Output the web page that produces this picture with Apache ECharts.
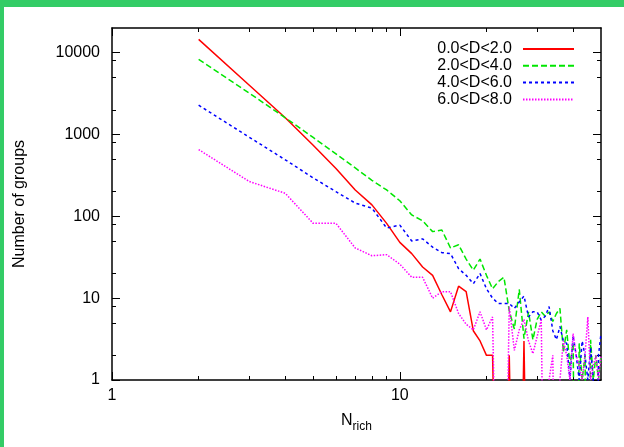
<!DOCTYPE html>
<html><head><meta charset="utf-8">
<script src="https://cdn.jsdelivr.net/npm/echarts@6/dist/echarts.min.js"></script>
<style>
html,body{margin:0;padding:0;background:#33cc66;width:624px;height:447px;overflow:hidden}
#c{position:absolute;left:4px;top:7px;width:620px;height:440px;background:#fff}
</style></head><body><div id="c"></div>
<script>
// N_rich values (x)
const nRich = [2,3,4,5,6,7,8,9,10,11,12,13,14,15,16,17,18,19,20,21,22,23,24,25,26,27,28,29,30,31,32,33,34,35,36,37,38,39,40,41,42,43,44,45,46,47,48,49,50];
// Number of groups per distance bin (0 = none)
const d0to2 = [14500,4000,1600,740,385,210,138,82,48,35,24,19,11,6.8,14,12,4,3,2,2,0,0,2,0,0,3,0,0,0,0,0,0,0,0,0,0,0,0,0,0,0,0,0,0,0,0,0,0,0];
const d2to4 = [8300,3200,1600,920,580,390,275,210,155,104,88,65,68,41,45,30,22,30,19,13,16,18,7,4.2,12.8,3.2,6.8,3.1,5.5,6.8,6,6.8,5.2,6.5,7.5,2.2,4.1,1.5,2.8,0,2.8,1,2,0,3.1,1,2,1,2];
const d4to6 = [2280,925,490,295,200,145,126,72,78,50,53,42,36,35,23,19,15,20,13,10,8.6,8.6,8.6,7.5,9,10.6,5.9,6.8,6.8,5.4,6,7.9,4,3.1,4.5,3,2.8,1,3.5,2,1,3,2,1,2.5,1,0,2,3.7];
const d6to8 = [654,266,191,82,82,41,33,34,26,18,18,10,12,12,6.5,4.8,4.1,6.8,4.1,5.9,0,0,7.9,2.3,4.1,5.5,3,2.1,3.4,5.4,0,1,2,0,1,3,2,1,3.7,2,1.5,1,2,5.9,1,1.5,2,1,2];
const seriesNames = ['0.0<D<2.0','2.0<D<4.0','4.0<D<6.0','6.0<D<8.0'];
// tick labels
const xLabels = [1,10];
const xMinor = [2,3,4,5,6,7,8,9,20,30,40];
const yLabels = [1,10,100,1000,10000];
const yMinor = [2,5,8,20,50,80,200,500,800,2000,5000,8000];

const FONT = 'Liberation Sans, Arial, Helvetica, sans-serif';
// zero counts sit far below the log axis floor so the line drops off the plot, as in the original
const pairs = arr => arr.map((v,i) => [nRich[i], v > 0 ? v : 1e-3]);

const axisLineStyle = {color:'#000', width:1.5};
function xAx(pos, major, withLabels){
  return {
    type:'log', logBase:10, min:1, max:50, position:pos, gridIndex:0,
    axisLine:{show:major, onZero:false, lineStyle:axisLineStyle},
    axisTick:{show:true, inside:true, length: major?8:4, customValues: major?xLabels:xMinor, lineStyle:{color:'#000', width:1}},
    axisLabel:{show:withLabels, customValues:xLabels, color:'#000', fontSize:16, fontFamily:FONT, margin:8, formatter:v=>String(Math.round(v))},
    splitLine:{show:false}, minorTick:{show:false}, minorSplitLine:{show:false}
  };
}
function yAx(pos, major, withLabels){
  return {
    type:'log', logBase:10, min:1, max:20000, position:pos, gridIndex:0,
    axisLine:{show:major, onZero:false, lineStyle:axisLineStyle},
    axisTick:{show:true, inside:true, length: major?8:4, customValues: major?yLabels:yMinor, lineStyle:{color:'#000', width:1}},
    axisLabel:{show:withLabels, customValues:yLabels, color:'#000', fontSize:16, fontFamily:FONT, margin:12, formatter:v=>String(Math.round(v))},
    splitLine:{show:false}, minorTick:{show:false}, minorSplitLine:{show:false}
  };
}
const xAxes = [xAx('bottom',true,true), xAx('bottom',false,false), xAx('top',true,false), xAx('top',false,false)];
xAxes[0].name = '{n|N}{s|rich}';
xAxes[0].nameLocation = 'middle';
xAxes[0].nameGap = 33;
xAxes[0].nameTextStyle = {color:'#000', fontFamily:FONT, rich:{
  n:{fontSize:16, fontFamily:FONT, color:'#000', lineHeight:20, verticalAlign:'top'},
  s:{fontSize:12, fontFamily:FONT, color:'#000', lineHeight:10, verticalAlign:'bottom'}}};
const yAxes = [yAx('left',true,true), yAx('left',false,false), yAx('right',true,false), yAx('right',false,false)];
yAxes[0].name = 'Number of groups';
yAxes[0].nameLocation = 'middle';
yAxes[0].nameGap = 84;
yAxes[0].nameTextStyle = {color:'#000', fontSize:16, fontFamily:FONT};

const styles = [
  {color:'#ff0000', type:'solid'},
  {color:'#00e600', type:[6,3]},
  {color:'#0000ff', type:[3,3]},
  {color:'#ff00ff', type:[1.5,1.5]}
];
const data = [d0to2, d2to4, d4to6, d6to8];
const series = data.map((arr,k) => ({
  type:'line', name:seriesNames[k], data:pairs(arr), xAxisIndex:0, yAxisIndex:0,
  symbol:'none', showSymbol:false, clip:true, animation:false,
  lineStyle:{color:styles[k].color, width:1.5, type:styles[k].type},
  itemStyle:{color:styles[k].color}
}));

const chart = echarts.init(document.getElementById('c'));
chart.setOption({
  animation:false,
  backgroundColor:'#fff',
  grid:{left:107, right:23, top:21, bottom:67, containLabel:false},
  legend:{
    orient:'vertical', right:44, top:29, align:'right',
    itemWidth:51, itemHeight:10, itemGap:0.8,
    itemStyle:{opacity:0},
    textStyle:{fontSize:16, color:'#000', fontFamily:FONT, padding:[0,6,0,0]},
    data:seriesNames
  },
  xAxis:xAxes,
  yAxis:yAxes,
  series:series
});
</script></body></html>
